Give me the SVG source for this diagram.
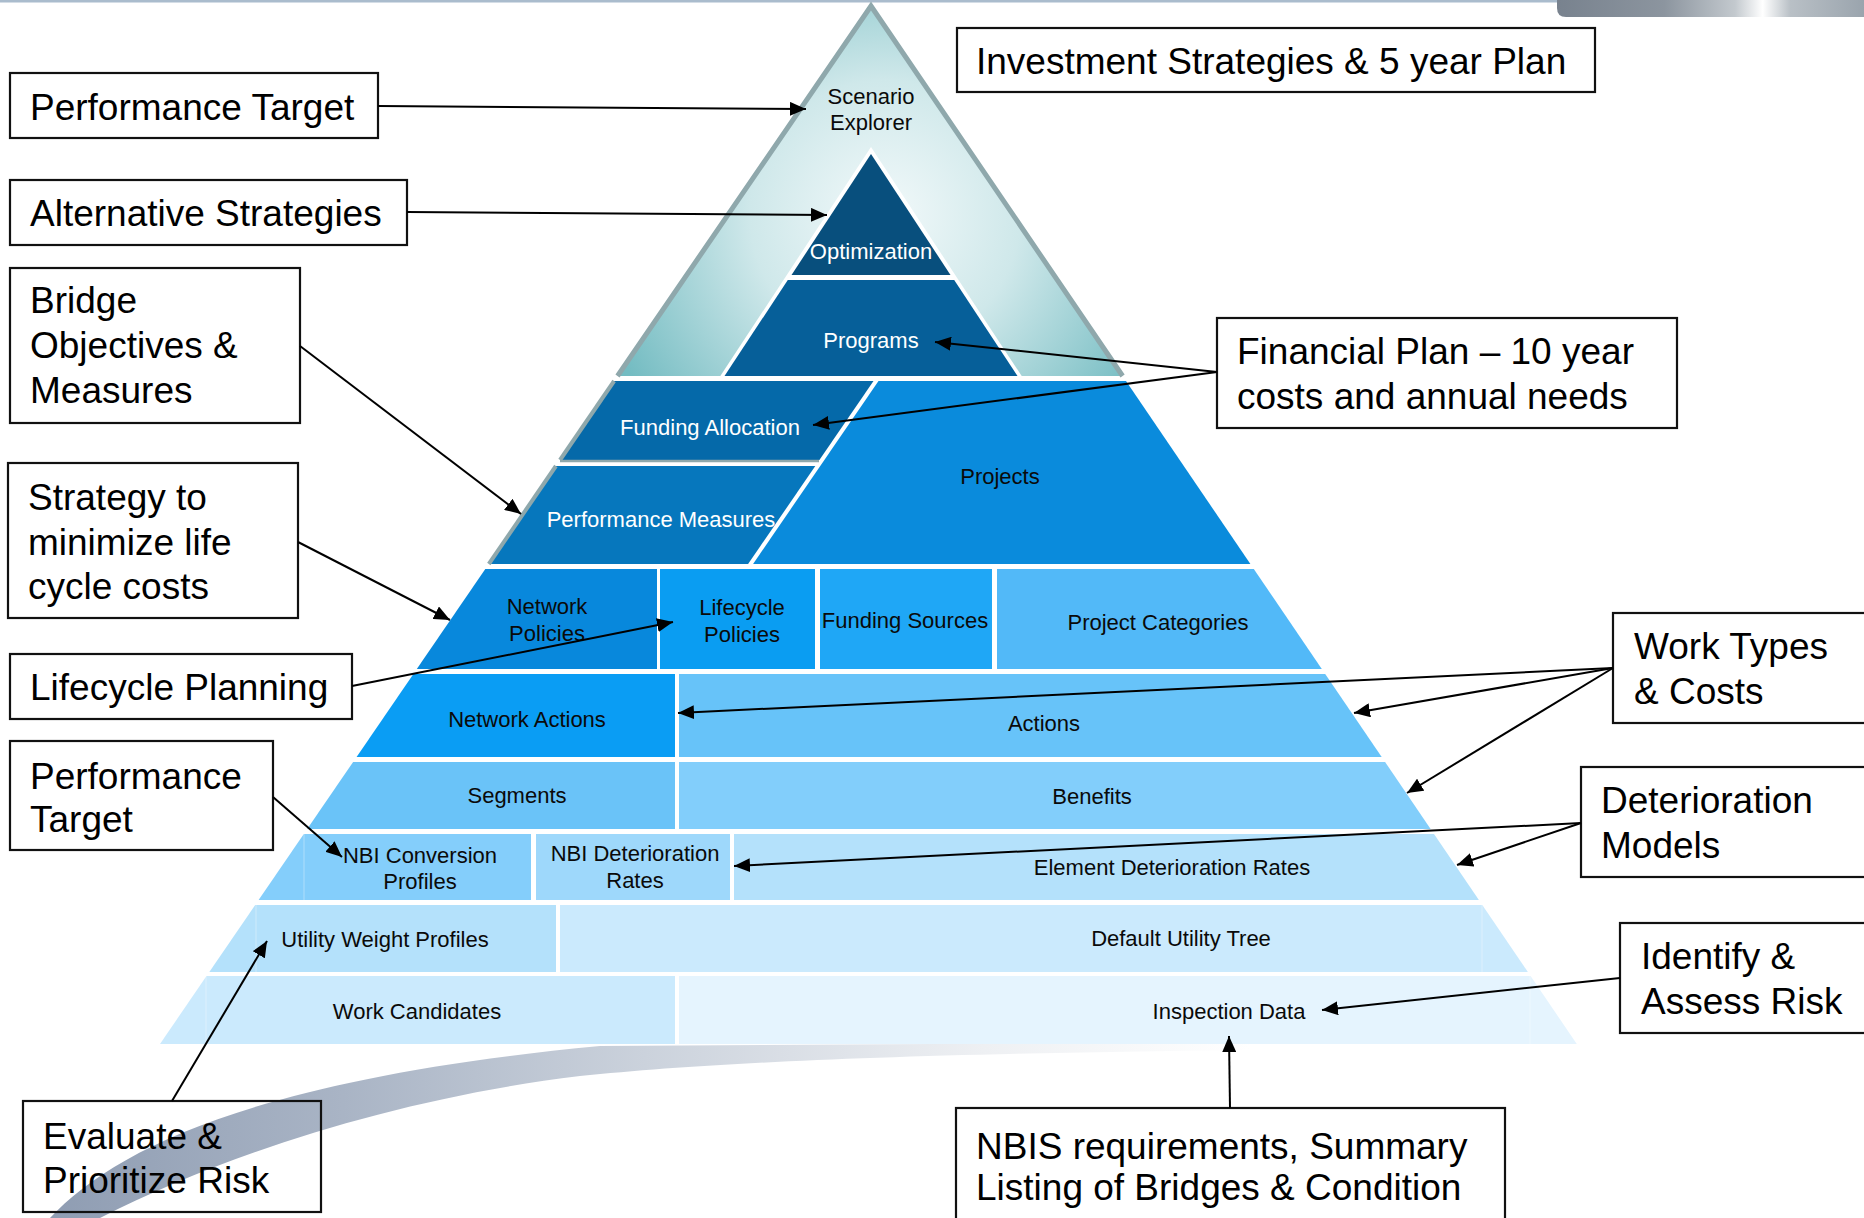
<svg xmlns="http://www.w3.org/2000/svg" width="1864" height="1218" viewBox="0 0 1864 1218">
<defs>
<style>
.box{fill:none;stroke:#111;stroke-width:2.2}
.lbl{font-family:"Liberation Sans",Arial,sans-serif;font-size:37px;fill:#000}
.pt{font-family:"Liberation Sans",Arial,sans-serif;font-size:22px;text-anchor:middle;fill:#0a0a0a}
.pw{fill:#ffffff}
.conn{stroke:#000;stroke-width:2;fill:none;marker-end:url(#ah)}
.seam{stroke:#ffffff;stroke-opacity:0.35;stroke-width:1}
.edge{stroke:#8fa8ac;fill:none}
</style>
<marker id="ah" markerWidth="16" markerHeight="14" refX="16" refY="7" orient="auto" markerUnits="userSpaceOnUse">
<path d="M0,0 L16,7 L0,14 z" fill="#000"/>
</marker>
<radialGradient id="teal" cx="885" cy="215" r="300" gradientUnits="userSpaceOnUse">
<stop offset="0" stop-color="#f2f9fa"/>
<stop offset="0.45" stop-color="#cfe8ea"/>
<stop offset="1" stop-color="#74bcc2"/>
</radialGradient>
<linearGradient id="swoosh" x1="40" y1="0" x2="1250" y2="0" gradientUnits="userSpaceOnUse">
<stop offset="0" stop-color="#8e9cb2"/>
<stop offset="0.25" stop-color="#a9b4c5"/>
<stop offset="0.5" stop-color="#cbd2dc"/>
<stop offset="0.78" stop-color="#eef0f3"/>
<stop offset="1" stop-color="#ffffff"/>
</linearGradient>
<linearGradient id="bar" x1="1557" y1="0" x2="1864" y2="0" gradientUnits="userSpaceOnUse">
<stop offset="0" stop-color="#78828e"/>
<stop offset="0.35" stop-color="#8c959f"/>
<stop offset="0.58" stop-color="#c3c9ce"/>
<stop offset="0.67" stop-color="#ffffff"/>
<stop offset="0.76" stop-color="#b9c0c6"/>
<stop offset="1" stop-color="#9aa4ad"/>
</linearGradient>
</defs>

<g id="background">
<rect x="0" y="0" width="1864" height="1218" fill="#ffffff"/>
<rect x="0" y="0" width="1864" height="2.5" fill="#aabccd"/>
<path d="M1557,0 L1864,0 L1864,17 L1566,17 Q1557,17 1557,8 Z" fill="url(#bar)"/>
<path d="M50,1218 C115,1148 260,1078 600,1046 L1250,1042 L1250,1050 C900,1054 720,1062 580,1076 C400,1098 230,1152 100,1218 Z" fill="url(#swoosh)"/>
</g>

<g id="pyramid">
<g id="scenario-explorer">
<polygon points="871,6 1122.6,376 617.5,376" fill="url(#teal)"/>
<polyline class="edge" points="617.5,376 871,6 1122.6,376" stroke-width="5"/>
<text class="pt" x="871" y="104">Scenario</text>
<text class="pt" x="871" y="130">Explorer</text>
</g>
<polygon points="871,147 1023,378 719,378" fill="#ffffff"/>
<g id="optimization">
<polygon points="871,154 950.5,275 791.5,275" fill="#084f7d"/>
<text class="pt pw" x="871" y="259">Optimization</text>
</g>
<g id="programs">
<polygon points="787.8,280 954.2,280 1017.5,376 724.5,376" fill="#065f99"/>
<text class="pt pw" x="871" y="348">Programs</text>
</g>
<g id="funding-allocation">
<polygon points="614.1,381 873.5,381 819.4,460 560,460" fill="#0569a9"/>
<line class="edge" x1="614.1" y1="381" x2="560" y2="460" stroke-width="4"/>
<line class="edge" x1="560" y1="461" x2="819" y2="461" stroke-width="2.5"/>
<text class="pt pw" x="710" y="435">Funding Allocation</text>
</g>
<g id="performance-measures">
<polygon points="555.9,466 815.3,466 748.1,564 488.8,564" fill="#0677bd"/>
<line class="edge" x1="555.9" y1="466" x2="488.8" y2="564" stroke-width="4"/>
<text class="pt pw" x="661" y="527">Performance Measures</text>
</g>
<g id="projects">
<polygon points="878.5,381 1126,381 1250.4,564 753.1,564" fill="#0a8bdc"/>
<text class="pt" x="1000" y="484">Projects</text>
</g>
<g id="network-policies">
<polygon points="485.3,569 657,569 657,669 416.8,669" fill="#0888dc"/>
<text class="pt" x="547" y="614">Network</text>
<text class="pt" x="547" y="641">Policies</text>
</g>
<g id="lifecycle-policies">
<rect x="660" y="569" width="155" height="100" fill="#0a9df2"/>
<text class="pt" x="742" y="615">Lifecycle</text>
<text class="pt" x="742" y="642">Policies</text>
</g>
<g id="funding-sources">
<rect x="820" y="569" width="172" height="100" fill="#1fa7f6"/>
<text class="pt" x="905" y="628">Funding Sources</text>
</g>
<g id="project-categories">
<polygon points="997,569 1253.8,569 1321.8,669 997,669" fill="#52b9f8"/>
<text class="pt" x="1158" y="630">Project Categories</text>
</g>
<g id="network-actions">
<polygon points="413.4,674 675,674 675,757 356.6,757" fill="#0a9df4"/>
<text class="pt" x="527" y="727">Network Actions</text>
</g>
<g id="actions">
<polygon points="679,674 1325.2,674 1381.7,757 679,757" fill="#67c3f9"/>
<text class="pt" x="1044" y="731">Actions</text>
</g>
<g id="segments">
<polygon points="353.1,762 675,762 675,829 307.2,829" fill="#6ac3f8"/>
<text class="pt" x="517" y="803">Segments</text>
</g>
<g id="benefits">
<polygon points="679,762 1385.1,762 1430.6,829 679,829" fill="#82cefb"/>
<text class="pt" x="1092" y="804">Benefits</text>
</g>
<g id="nbi-conversion-profiles">
<polygon points="303.8,834 531,834 531,900 258.6,900" fill="#84cefb"/>
<line class="seam" x1="304" y1="834" x2="304" y2="900"/>
<text class="pt" x="420" y="863">NBI Conversion</text>
<text class="pt" x="420" y="889">Profiles</text>
</g>
<g id="nbi-deterioration-rates">
<rect x="536" y="834" width="194" height="66" fill="#9ed8fb"/>
<text class="pt" x="635" y="861">NBI Deterioration</text>
<text class="pt" x="635" y="888">Rates</text>
</g>
<g id="element-deterioration-rates">
<polygon points="734,834 1434,834 1478.9,900 734,900" fill="#b4e1fb"/>
<text class="pt" x="1172" y="875">Element Deterioration Rates</text>
</g>
<g id="utility-weight-profiles">
<polygon points="255.2,905 556,905 556,972 209.3,972" fill="#b4e1fb"/>
<line class="seam" x1="256" y1="905" x2="256" y2="972"/>
<text class="pt" x="385" y="947">Utility Weight Profiles</text>
</g>
<g id="default-utility-tree">
<polygon points="560,905 1482.3,905 1527.9,972 560,972" fill="#cbeafd"/>
<line class="seam" x1="1482" y1="905" x2="1482" y2="972"/>
<text class="pt" x="1181" y="946">Default Utility Tree</text>
</g>
<g id="work-candidates">
<polygon points="206.5,976 675,976 675,1044 160,1044" fill="#cbeafd"/>
<line class="seam" x1="206" y1="976" x2="206" y2="1044"/>
<text class="pt" x="417" y="1019">Work Candidates</text>
</g>
<g id="inspection-data">
<polygon points="679,976 1530.6,976 1576.8,1044 679,1044" fill="#e5f4fe"/>
<line class="seam" x1="1530" y1="976" x2="1530" y2="1044"/>
<text class="pt" x="1229" y="1019">Inspection Data</text>
</g>
</g>

<g id="label-performance-target-1">
<rect class="box" x="10" y="73" width="368" height="65"/>
<text class="lbl" x="30" y="120">Performance Target</text>
</g>
<g id="label-alternative-strategies">
<rect class="box" x="10" y="180" width="397" height="65"/>
<text class="lbl" x="30" y="226">Alternative Strategies</text>
</g>
<g id="label-bridge-objectives">
<rect class="box" x="10" y="268" width="290" height="155"/>
<text class="lbl" x="30" y="313">Bridge</text>
<text class="lbl" x="30" y="358">Objectives &amp;</text>
<text class="lbl" x="30" y="403">Measures</text>
</g>
<g id="label-strategy">
<rect class="box" x="8" y="463" width="290" height="155"/>
<text class="lbl" x="28" y="510">Strategy to</text>
<text class="lbl" x="28" y="555">minimize life</text>
<text class="lbl" x="28" y="599">cycle costs</text>
</g>
<g id="label-lifecycle-planning">
<rect class="box" x="10" y="654" width="342" height="65"/>
<text class="lbl" x="30" y="700">Lifecycle Planning</text>
</g>
<g id="label-performance-target-2">
<rect class="box" x="10" y="741" width="263" height="109"/>
<text class="lbl" x="30" y="789">Performance</text>
<text class="lbl" x="30" y="832">Target</text>
</g>
<g id="label-evaluate">
<rect class="box" x="23" y="1101" width="298" height="111"/>
<text class="lbl" x="43" y="1149">Evaluate &amp;</text>
<text class="lbl" x="43" y="1193">Prioritize Risk</text>
</g>
<g id="label-investment">
<rect class="box" x="957" y="28" width="638" height="64"/>
<text class="lbl" x="976" y="74">Investment Strategies &amp; 5 year Plan</text>
</g>
<g id="label-financial-plan">
<rect class="box" x="1217" y="318" width="460" height="110"/>
<text class="lbl" x="1237" y="364">Financial Plan – 10 year</text>
<text class="lbl" x="1237" y="409">costs and annual needs</text>
</g>
<g id="label-work-types">
<rect class="box" x="1613" y="613" width="260" height="110"/>
<text class="lbl" x="1634" y="659">Work Types</text>
<text class="lbl" x="1634" y="704">&amp; Costs</text>
</g>
<g id="label-deterioration-models">
<rect class="box" x="1581" y="767" width="292" height="110"/>
<text class="lbl" x="1601" y="813">Deterioration</text>
<text class="lbl" x="1601" y="858">Models</text>
</g>
<g id="label-identify-risk">
<rect class="box" x="1620" y="923" width="253" height="110"/>
<text class="lbl" x="1641" y="969">Identify &amp;</text>
<text class="lbl" x="1641" y="1014">Assess Risk</text>
</g>
<g id="label-nbis">
<rect class="box" x="956" y="1108" width="549" height="120"/>
<text class="lbl" x="976" y="1159">NBIS requirements, Summary</text>
<text class="lbl" x="976" y="1200">Listing of Bridges &amp; Condition</text>
</g>

<g id="connectors">
<path class="conn" d="M378,106 L806,109"/>
<path class="conn" d="M407,212 L827,215"/>
<path class="conn" d="M300,346 L521,514"/>
<path class="conn" d="M298,542 L450,620"/>
<path class="conn" d="M352,686 L673,622"/>
<path class="conn" d="M273,797 L342,857"/>
<path class="conn" d="M172,1101 L267,941"/>
<path class="conn" d="M1217,372 L935,342"/>
<path class="conn" d="M1217,372 L813,425"/>
<path class="conn" d="M1613,668 L678,713"/>
<path class="conn" d="M1613,668 L1354,713"/>
<path class="conn" d="M1613,668 L1407,793"/>
<path class="conn" d="M1581,823 L734,866"/>
<path class="conn" d="M1581,823 L1457,865"/>
<path class="conn" d="M1620,978 L1322,1010"/>
<path class="conn" d="M1230,1108 L1229,1036"/>
</g>
</svg>
